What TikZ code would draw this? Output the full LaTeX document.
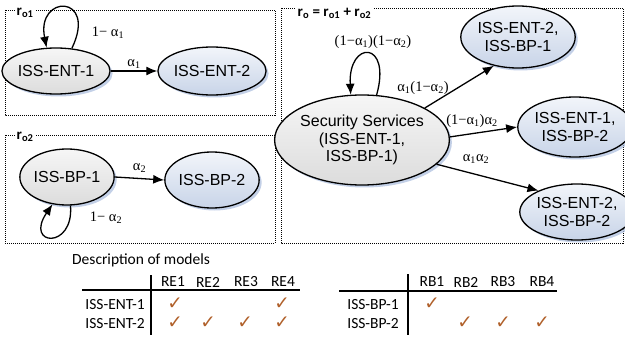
\documentclass[tikz,border=0pt]{standalone}
\usepackage{fontspec}
\setmainfont{Liberation Sans}
\newfontfamily\tabfont{Carlito}
\newfontfamily\mathlab{Liberation Serif}
\newfontfamily\chkfont{DejaVu Sans}
\usetikzlibrary{arrows.meta,shapes.geometric,shadows}
\definecolor{chk}{HTML}{B0602A}
\definecolor{graytop}{HTML}{F6F6F6}
\definecolor{graybot}{HTML}{DCDCDC}
\definecolor{bluetop}{HTML}{F2F5FA}
\definecolor{bluebot}{HTML}{C8D4E8}
\definecolor{shadowblue}{HTML}{A9BCDD}
\newcommand{\al}[1]{α\textsubscript{#1}}
\newcommand{\ck}{{\chkfont\bfseries\color{chk}✓}}
\tikzset{
  base/.style={ellipse, draw=black, line width=1.3pt, inner sep=0pt, align=center,
    font=\fontsize{16}{17.5}\selectfont,
    drop shadow={shadow xshift=2.5pt, shadow yshift=-2.5pt, fill=shadowblue, opacity=0.7}},
  grayst/.style={base, top color=graytop, bottom color=graybot},
  bluest/.style={base, top color=bluetop, bottom color=bluebot},
  arr/.style={-{Latex[length=11pt,width=9pt]}, line width=1.3pt},
  lab/.style={font=\mathlab\fontsize{14.5}{15}\selectfont, inner sep=1pt},
  dotbox/.style={draw=black, line width=0.9pt, dash pattern=on 1pt off 1pt},
  boxlab/.style={fill=white, inner sep=1.5pt, font=\tabfont\bfseries\fontsize{15}{16}\selectfont},
  tab/.style={font=\tabfont\fontsize{15.5}{16}\selectfont, inner sep=0pt},
  chkst/.style={font=\fontsize{18.5}{18.5}\selectfont, inner sep=0pt},
  tabline/.style={line width=1.3pt}
}
\begin{document}
\begin{tikzpicture}[x=1pt,y=-1pt]
\useasboundingbox (0,0) rectangle (625,337);
% boxes
\draw[dotbox] (5,10) rectangle (275,115);
\node[boxlab, anchor=west] (l1) at (15,13) {r\textsubscript{o1}};
\draw[dotbox] (5,135) rectangle (275,243);
\node[boxlab, anchor=west] (l2) at (15,137) {r\textsubscript{o2}};
\draw[dotbox] (281,8) rectangle (623,243);
\node[boxlab, anchor=west] (l3) at (296,13) {r\textsubscript{o} = r\textsubscript{o1} + r\textsubscript{o2}};
% ro1
\node[grayst, minimum width=88pt, minimum height=46pt] (e1) at (56,71) {ISS-ENT-1};
\node[bluest, minimum width=86pt, minimum height=48pt] (e2) at (212,71) {ISS-ENT-2};
\draw[arr] (e1) -- (e2) node[lab, midway, above=1pt] (la1) {\al{1}};
\draw[arr] (e1.55) .. controls (98,-6) and (36,-6) .. (e1.112);
\node[lab] (la1b) at (108,33) {1− \al{1}};
% ro2
\node[grayst, minimum width=90pt, minimum height=56pt] (b1) at (67,177) {ISS-BP-1};
\node[bluest, minimum width=90pt, minimum height=56pt] (b2) at (212,180) {ISS-BP-2};
\draw[arr] (b1.east) -- (b2.west) node[lab, midway, above=4pt] (la2) {\al{2}};
\draw[arr] (b1.-83) .. controls (74,250) and (24,246) .. (b1.-118);
\node[lab] (la2b) at (106,218) {1− \al{2}};
% ro
\node[grayst, minimum width=152pt, minimum height=90pt] (s) at (362,140) {Security Services\\(ISS-ENT-1,\\ISS-BP-1)};
\node[bluest, minimum width=100pt, minimum height=62pt] (t1) at (518,37) {ISS-ENT-2,\\ISS-BP-1};
\node[bluest, minimum width=96pt, minimum height=60pt] (t2) at (575,127) {ISS-ENT-1,\\ISS-BP-2};
\node[bluest, minimum width=92pt, minimum height=56pt] (t3) at (577,212) {ISS-ENT-2,\\ISS-BP-2};
\draw[arr] (s.72) .. controls (392,40) and (348,40) .. (s.104);
\node[lab] (ls) at (373,42) {(1−\al{1})(1−\al{2})};
\draw[arr] (s.27) -- (t1.-130);
\node[lab] (ls1) at (423,88) {\al{1}(1−\al{2})};
\draw[arr] (s.2) -- (t2.west);
\node[lab] (ls2) at (472,121) {(1−\al{1})\al{2}};
\draw[arr] (s.-18) -- (t3.151);
\node[lab] (ls3) at (476,159) {\al{1}\al{2}};
% tables
\node[tab, anchor=west] (desc) at (72,260) {Description of models};
\draw[tabline] (151,275) -- (151,335);
\draw[tabline] (82,290) -- (300,290);
\foreach \n/\x in {RE1/173,RE2/208,RE3/246,RE4/283}{\node[tab] (h\n) at (\x,282) {\n};}
\node[tab, anchor=east] (r1) at (145,305) {ISS-ENT-1};
\node[tab, anchor=east] (r2) at (145,324) {ISS-ENT-2};
\node[chkst] (c11) at (175,304) {\ck};
\node[chkst] (c14) at (282,304) {\ck};
\foreach \x [count=\i] in {175,208,245,282}{\node[chkst] (c2\i) at (\x,323) {\ck};}
\draw[tabline] (408,274) -- (408,335);
\draw[tabline] (339,291) -- (557,291);
\foreach \n/\x in {RB1/432,RB2/466,RB3/503,RB4/542}{\node[tab] (h\n) at (\x,282) {\n};}
\node[tab, anchor=east] (q1) at (399,305) {ISS-BP-1};
\node[tab, anchor=east] (q2) at (399,324) {ISS-BP-2};
\node[chkst] (d11) at (432,304) {\ck};
\foreach \x [count=\i] in {465,503,542}{\node[chkst] (d2\i) at (\x,323) {\ck};}
\end{tikzpicture}
\end{document}
